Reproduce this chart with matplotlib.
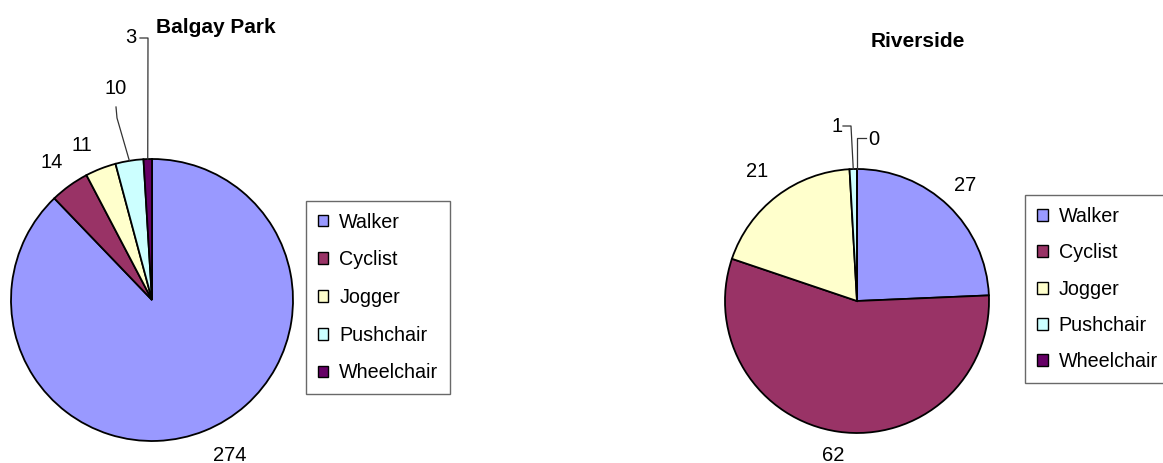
import matplotlib
matplotlib.use('Agg')
import matplotlib.pyplot as plt
import matplotlib.patches as mpatches
import numpy

plt.rcParams['font.family'] = ['Liberation Sans', 'DejaVu Sans']

# data
CATEGORIES = ['Walker', 'Cyclist', 'Jogger', 'Pushchair', 'Wheelchair']
BALGAY_PARK = [274, 14, 11, 10, 3]
RIVERSIDE = [27, 62, 21, 1, 0]
COLORS = ['#9999FF', '#993366', '#FFFFCC', '#CCFFFF', '#660066']

# layout, all in pixels of a 1163 x 463 canvas (y measured from the top)
W, H = 1163, 463
PIE_LEFT = dict(center=(152, 300), radius=141, title=(215.5, 33), legend=(305.7, 200.7))
PIE_RIGHT = dict(center=(857, 301), radius=132, title=(918, 47), legend=(1025, 195))

# baseline positions of the value labels
LABELS_LEFT = [(230, 461), (52, 168), (82, 151), (116, 94), (131, 43)]
LABELS_RIGHT = [(965, 191), (833, 461), (757, 177), (837, 132), (874, 145)]

# leader lines (bend points after the wedge edge), None = no leader
LEADERS_LEFT = [None, None, None, [(117, 118), (116, 107)], [(148, 38), (140, 38)]]
LEADERS_RIGHT = [None, None, None, [(851, 126), (843, 126)], [(857, 138), (866, 138)]]


def flip(pt):
    """ pixel (from top) -> data coords (y up) """
    return pt[0], H - pt[1]


def add_pie(ax, values, title, layout, label_pos, leaders, spacing):
    cx, cy = flip(layout['center'])
    r = layout['radius']
    wedges, _ = ax.pie(values, colors=COLORS, startangle=90, counterclock=False,
                       center=(cx, cy), radius=r, frame=True,
                       wedgeprops=dict(edgecolor='black', linewidth=1.3))

    for i, w in enumerate(wedges):
        mid = numpy.deg2rad((w.theta1 + w.theta2) / 2)
        if leaders[i] is not None:
            pts = [(cx + r * numpy.cos(mid), cy + r * numpy.sin(mid))]
            pts += [flip(p) for p in leaders[i]]
            xs, ys = zip(*pts)
            ax.plot(xs, ys, color='#333333', lw=0.9, zorder=3)
        x, y = flip(label_pos[i])
        ax.text(x, y, str(values[i]), ha='center', va='baseline', fontsize=14.5)

    tx, ty = flip(layout['title'])
    ax.text(tx, ty, title, ha='center', va='baseline', fontsize=15, weight='bold')

    # legend
    handles = [mpatches.Patch(facecolor=c, edgecolor='black', linewidth=1.0, label=lab)
               for c, lab in zip(COLORS, CATEGORIES)]
    lx, ly = flip(layout['legend'])
    leg = ax.legend(handles=handles, loc='upper left', bbox_to_anchor=(lx / W, ly / H),
                    bbox_transform=ax.transAxes, prop={'size': 14.2}, frameon=True,
                    fancybox=False, borderpad=0.6, labelspacing=spacing,
                    handlelength=0.55, handleheight=0.55, handletextpad=0.55, borderaxespad=0)
    leg.get_frame().set_edgecolor('#444444')
    leg.get_frame().set_linewidth(1.0)
    return leg


fig = plt.figure(figsize=(W / 100, H / 100), dpi=100)
ax = fig.add_axes([0, 0, 1, 1])

leg1 = add_pie(ax, BALGAY_PARK, 'Balgay Park', PIE_LEFT, LABELS_LEFT, LEADERS_LEFT, 0.95)
ax.add_artist(leg1)
add_pie(ax, RIVERSIDE, 'Riverside', PIE_RIGHT, LABELS_RIGHT, LEADERS_RIGHT, 0.88)

ax.set_xlim(0, W)
ax.set_ylim(0, H)
ax.set_aspect('equal')
ax.axis('off')

plt.savefig('out.png', dpi=100)
